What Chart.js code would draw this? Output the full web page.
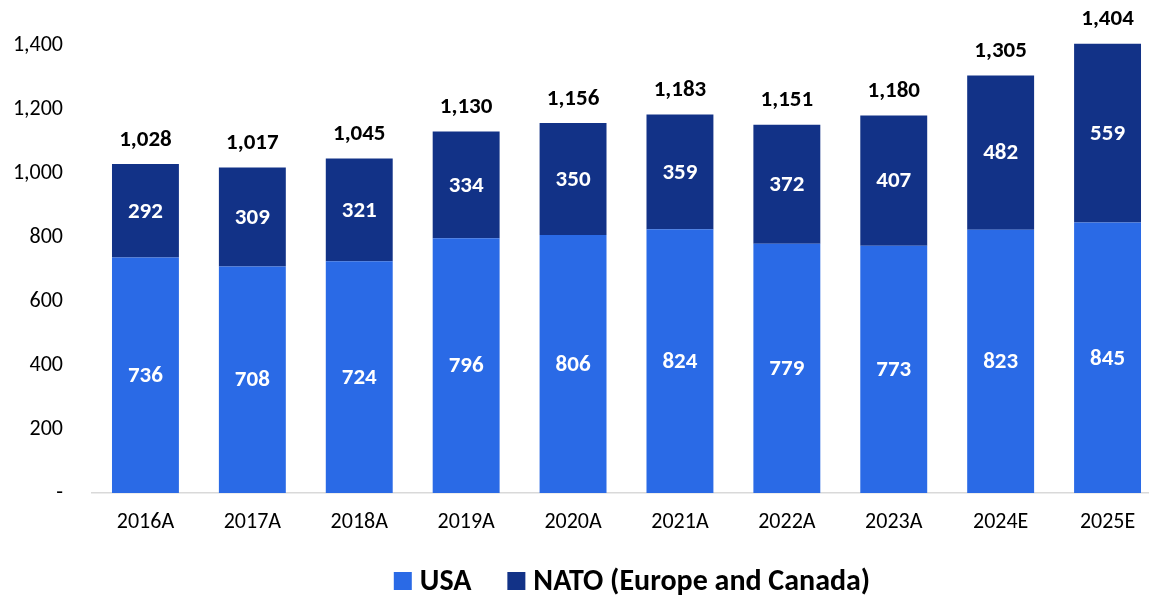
<!DOCTYPE html>
<html>
<head>
<meta charset="utf-8">
<script src="https://cdn.jsdelivr.net/npm/chart.js@4.4.1/dist/chart.umd.min.js"></script>
<style>
  html, body { margin: 0; padding: 0; background: #fff; overflow: hidden; }
  #wrap { width: 1162px; height: 600px; }
</style>
</head>
<body>
<div id="wrap"><canvas id="c" width="1162" height="600"></canvas></div>
<script>
const categories = ['2016A','2017A','2018A','2019A','2020A','2021A','2022A','2023A','2024E','2025E'];
const usaValues  = [736, 708, 724, 796, 806, 824, 779, 773, 823, 845];
const natoValues = [292, 309, 321, 334, 350, 359, 372, 407, 482, 559];
const seriesNames = ['USA', 'NATO (Europe and Canada)'];
const seriesColors = ['#2A6AE6', '#123287'];
const yTicks = [0, 200, 400, 600, 800, 1000, 1200, 1400];

const FONT = 'Carlito, Lato, "Open Sans", sans-serif';
const fmt = v => v.toLocaleString('en-US');

const labelPlugin = {
  id: 'labels',
  afterDatasetsDraw(chart) {
    const ctx = chart.ctx;
    ctx.save();
    ctx.textAlign = 'center';
    ctx.textBaseline = 'middle';
    ctx.font = 'bold 23px ' + FONT;
    ctx.fillStyle = '#ffffff';
    chart.data.datasets.forEach((ds, di) => {
      const meta = chart.getDatasetMeta(di);
      meta.data.forEach((bar, i) => {
        const y = (bar.y + bar.base) / 2;
        ctx.fillText(fmt(ds.data[i]), bar.x, y + 1);
      });
    });
    ctx.fillStyle = '#000000';
    const top = chart.getDatasetMeta(chart.data.datasets.length - 1);
    top.data.forEach((bar, i) => {
      const total = chart.data.datasets.reduce((s, d) => s + d.data[i], 0);
      ctx.fillText(fmt(total), bar.x, bar.y - 24);
    });
    // legend
    ctx.font = 'bold 30px ' + FONT;
    ctx.textAlign = 'left';
    const sq = 18, gapText = 8, gapItem = 36;
    const items = chart.data.datasets.map(d => ({ label: d.label, color: d.backgroundColor, w: ctx.measureText(d.label).width }));
    let totalW = items.reduce((s, it) => s + sq + gapText + it.w, 0) + gapItem * (items.length - 1);
    let x = 632 - totalW / 2;
    const cy = 581;
    items.forEach(it => {
      ctx.fillStyle = it.color;
      ctx.fillRect(x, cy - sq / 2, sq, sq);
      ctx.fillStyle = '#000';
      ctx.fillText(it.label, x + sq + gapText, cy + 1);
      x += sq + gapText + it.w + gapItem;
    });
    ctx.restore();
  }
};

new Chart(document.getElementById('c'), {
  type: 'bar',
  data: {
    labels: categories,
    datasets: [
      { label: seriesNames[0], data: usaValues, backgroundColor: seriesColors[0], clip: false },
      { label: seriesNames[1], data: natoValues, backgroundColor: seriesColors[1], clip: false }
    ]
  },
  options: {
    responsive: false,
    animation: false,
    layout: { padding: { top: 45, right: 1, left: 0, bottom: 0 } },
    datasets: { bar: { barPercentage: 1, categoryPercentage: 0.626 } },
    plugins: { legend: { display: false }, tooltip: { enabled: false } },
    scales: {
      x: {
        stacked: true,
        grid: { display: false, drawTicks: false },
        border: { display: true, color: '#D9D9D9', width: 1.5 },
        ticks: { color: '#000', font: { family: FONT, size: 22 }, padding: 16, maxRotation: 0 },
        afterFit(scale) { scale.height = 107; }
      },
      y: {
        stacked: true,
        min: 0, max: 1400,
        afterBuildTicks(scale) { scale.ticks = yTicks.map(v => ({ value: v })); },
        grid: { display: false, drawTicks: false },
        border: { display: false },
        ticks: { color: '#000', font: { family: FONT, size: 22 }, padding: 29,
                 callback: v => v === 0 ? '-' : fmt(v) },
        afterFit(scale) { scale.width = 92; }
      }
    }
  },
  plugins: [labelPlugin]
});
</script>
</body>
</html>
